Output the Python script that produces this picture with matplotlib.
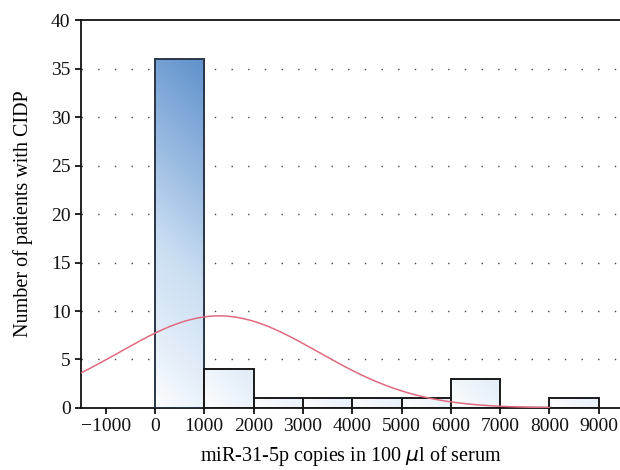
import numpy as np
import matplotlib
matplotlib.use('Agg')
import matplotlib.pyplot as plt
from matplotlib.colors import LinearSegmentedColormap

plt.rcParams['font.family'] = ['Liberation Serif', 'DejaVu Serif']

# histogram bins (copies in 100 ul) and counts
bin_edges = [0, 1000, 2000, 3000, 4000, 5000, 6000, 7000, 8000, 9000]
counts = [36, 4, 1, 1, 1, 1, 3, 0, 1]

# fitted normal curve parameters
fit_mean = 1300
fit_sd = 2016
fit_n = sum(counts)
bin_width = 1000

fig = plt.figure(figsize=(6.2, 4.7), dpi=100)
ax = fig.add_axes([0.1306, 0.132, 0.8694, 0.825])

cmap = LinearSegmentedColormap.from_list('bar', ['#ffffff', '#c9ddf2', '#5b8ecb'])
ymax_all = max(counts)

for left, right, h in zip(bin_edges[:-1], bin_edges[1:], counts):
    if h > 0:
        # diagonal gradient, intensity grows with absolute height
        yy, xx = np.mgrid[0:1:100j, 0:1:40j]
        t = 0.85 * (yy * h / ymax_all) + 0.12 * xx
        t = np.clip(t, 0, 1) ** 0.8
        im = ax.imshow(t, cmap=cmap, vmin=0, vmax=1, origin='lower', aspect='auto',
                       extent=[left, right, 0, h], zorder=2, interpolation='bilinear')
        edge = '#2b3646' if h == ymax_all else '#1a1a1a'
        rect = plt.Rectangle((left, 0), right - left, h, facecolor='none',
                             edgecolor=edge, lw=1.4, zorder=3)
        ax.add_patch(rect)
        im.set_clip_path(rect)
    else:
        ax.plot([left, right], [0, 0], color='#111111', lw=2.5, zorder=3)

x = np.linspace(-1500, 8000, 400)
y = fit_n * bin_width / (fit_sd * np.sqrt(2 * np.pi)) * np.exp(-(x - fit_mean) ** 2 / (2 * fit_sd ** 2))
ax.plot(x, y, color='#e06a80', lw=1.1, zorder=4)

for g in range(5, 40, 5):
    ax.axhline(g, color='#444444', lw=1.0, linestyle=(0, (1, 11)), zorder=1)

ax.set_xlim(-1500, 9430)
ax.set_ylim(0, 40)
ax.set_xticks(range(-1000, 10000, 1000))
ax.set_xticklabels(['\u22121000'] + [str(v) for v in range(0, 10000, 1000)])
ax.set_yticks(range(0, 45, 5))
ax.spines['right'].set_visible(False)
for s in ['left', 'top', 'bottom']:
    ax.spines[s].set_linewidth(1.3)
    ax.spines[s].set_color('#111111')
ax.tick_params(direction='out', length=4, width=1.3, labelsize=14, colors='#111111')

ax.set_xlabel('miR-31-5p copies in 100 $\\mu$l of serum', fontsize=14.5, labelpad=6)
ax.set_ylabel('Number of patients with CIDP', fontsize=14.5, labelpad=13)

fig.savefig('out.png', dpi=100)
